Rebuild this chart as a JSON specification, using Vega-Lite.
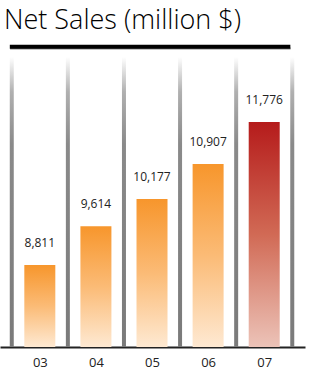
{
  "$schema": "https://vega.github.io/schema/vega-lite/v6.json",
  "autosize": "none",
  "padding": {"left": 0, "top": 40, "right": 4, "bottom": 28},
  "width": 305,
  "height": 307,
  "background": "white",
  "title": {
    "text": "Net Sales (million $)",
    "anchor": "start",
    "frame": "group",
    "baseline": "alphabetic",
    "offset": 7,
    "dx": 4,
    "dy": 23,
    "font": "Open Sans",
    "fontSize": 27,
    "fontWeight": 300,
    "color": "#000"
  },
  "config": {"view": {"stroke": null}},
  "datasets": {
    "sales": [
      {"year": "03", "i": 0, "value": 8811},
      {"year": "04", "i": 1, "value": 9614},
      {"year": "05", "i": 2, "value": 10177},
      {"year": "06", "i": 3, "value": 10907},
      {"year": "07", "i": 4, "value": 11776}
    ],
    "dividers": [
      {"pos": -0.5}, {"pos": 0.5}, {"pos": 1.5}, {"pos": 2.5}, {"pos": 3.5}, {"pos": 4.5}
    ]
  },
  "layer": [
    {
      "data": {"name": "dividers"},
      "mark": {
        "type": "bar",
        "width": 4,
        "fill": {
          "gradient": "linear", "x1": 0, "y1": 0, "x2": 0, "y2": 1,
          "stops": [
            {"offset": 0, "color": "#ffffff"},
            {"offset": 0.12, "color": "#b0b0b0"},
            {"offset": 0.3, "color": "#8a8a8a"},
            {"offset": 1, "color": "#7a7a7a"}
          ]
        }
      },
      "encoding": {
        "x": {
          "field": "pos", "type": "quantitative",
          "scale": {"domain": [-0.6207, 4.638], "nice": false, "zero": false},
          "axis": {
            "values": [0, 1, 2, 3, 4],
            "labelExpr": "['03','04','05','06','07'][datum.value]",
            "title": null, "grid": false, "ticks": false,
            "domainColor": "#222", "domainWidth": 2,
            "labelFont": "Open Sans", "labelFontSize": 13, "labelColor": "#222",
            "labelPadding": 9
          }
        },
        "y": {"datum": 13124, "type": "quantitative", "scale": {"domain": [7111, 13476], "nice": false, "zero": false}, "axis": null},
        "y2": {"datum": 7111}
      }
    },
    {
      "data": {"name": "sales"},
      "transform": [{"filter": "datum.year != '07'"}],
      "mark": {
        "type": "bar",
        "width": 31,
        "fill": {
          "gradient": "linear", "x1": 0, "y1": 0, "x2": 0, "y2": 1,
          "stops": [
            {"offset": 0, "color": "#f7962c"},
            {"offset": 0.5, "color": "#fbbb76"},
            {"offset": 1, "color": "#fee9d2"}
          ]
        }
      },
      "encoding": {
        "x": {"field": "i", "type": "quantitative"},
        "y": {"field": "value", "type": "quantitative"},
        "y2": {"datum": 7111}
      }
    },
    {
      "data": {"name": "sales"},
      "transform": [{"filter": "datum.year == '07'"}],
      "mark": {
        "type": "bar",
        "width": 31,
        "fill": {
          "gradient": "linear", "x1": 0, "y1": 0, "x2": 0, "y2": 1,
          "stops": [
            {"offset": 0, "color": "#b51b1b"},
            {"offset": 0.5, "color": "#d16a55"},
            {"offset": 1, "color": "#ecc3b8"}
          ]
        }
      },
      "encoding": {
        "x": {"field": "i", "type": "quantitative"},
        "y": {"field": "value", "type": "quantitative"},
        "y2": {"datum": 7111}
      }
    },
    {
      "data": {"name": "sales"},
      "mark": {"type": "text", "dy": -18, "baseline": "alphabetic", "font": "Open Sans", "fontSize": 12, "color": "#222"},
      "encoding": {
        "x": {"field": "i", "type": "quantitative"},
        "y": {"field": "value", "type": "quantitative"},
        "text": {"field": "value", "type": "quantitative", "format": ","}
      }
    },
    {
      "data": {"values": [{}]},
      "mark": {"type": "rule", "color": "#888", "strokeWidth": 2},
      "encoding": {
        "x": {"datum": -0.53},
        "x2": {"datum": 4.47},
        "y": {"datum": 13300}
      }
    },
    {
      "data": {"values": [{}]},
      "mark": {"type": "rule", "color": "#000", "strokeWidth": 4},
      "encoding": {
        "x": {"datum": -0.535},
        "x2": {"datum": 4.466},
        "y": {"datum": 13335}
      }
    }
  ]
}
